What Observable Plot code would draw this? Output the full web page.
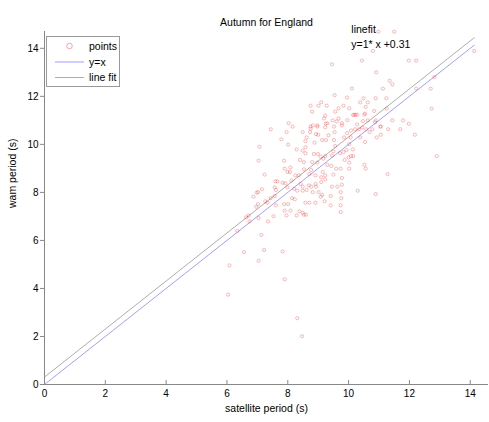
<!DOCTYPE html>
<html>
<head>
<meta charset="utf-8">
<script src="https://cdn.jsdelivr.net/npm/d3@7"></script>
<script src="https://cdn.jsdelivr.net/npm/@observablehq/plot@0.6"></script>
<style>
  html, body { margin: 0; padding: 0; background: white; }
  svg { display: block; }
</style>
</head>
<body>
<div id="chart"></div>
<script>
const title = "Autumn for England";
const xLabel = "satellite period (s)";
const yLabel = "wam period (s)";
const xTicks = [0, 2, 4, 6, 8, 10, 12, 14];
const yTicks = [0, 2, 4, 6, 8, 10, 12, 14];
const fitSlope = 1;
const fitIntercept = 0.31;
const legendLabels = ["points", "y=x", "line fit"];

// [satellite period, wam period]
const points = [
  [9.45,13.33],[10.11,12.33],[9.54,12.05],[9.10,11.75],[8.75,11.61],[9.01,11.61],[9.28,11.61],[9.83,11.61],[10.02,11.5],[9.67,11.5],
  [9.56,11.36],[8.80,11.36],[9.23,11.2],[9.19,11.08],[9.48,11.0],[9.67,11.08],[9.61,10.95],[8.03,10.88],[8.16,10.74],[8.75,10.74],
  [8.97,10.74],[9.30,10.88],[9.52,10.74],[9.78,10.88],[9.96,11.01],[10.15,11.22],
  [10.98,14.69],[11.50,14.69],[10.80,13.89],[10.44,13.49],[11.98,13.49],[12.22,13.49],[14.13,13.89],[10.91,13.0],[11.35,12.65],[11.44,12.5],
  [11.13,12.32],[12.82,12.8],[12.22,12.32],[12.70,12.32],[10.49,11.92],[10.63,11.75],[10.38,11.75],[10.89,11.92],[11.24,11.92],[10.56,11.56],
  [10.84,11.39],[10.54,11.28],[10.23,11.22],[11.25,11.49],[12.73,11.49],[10.47,10.97],[10.63,11.0],[10.89,11.0],[11.44,11.0],[11.79,11.0],
  [11.98,10.86],[11.06,10.74],
  [9.95,11.95],[10.19,11.24],[10.28,11.24],[10.52,11.24],[10.87,10.92],
  [7.44,10.63],[7.96,10.51],[8.49,10.51],[8.75,10.65],[8.82,10.79],[8.97,10.79],[8.73,10.51],[8.93,10.43],[8.62,10.29],[9.23,10.71],
  [9.78,10.79],[9.54,10.51],[9.34,10.38],[7.79,10.21],[8.58,10.13],[9.13,10.18],[9.26,10.18],[9.52,10.18],[9.85,10.29],[10.07,10.29],
  [7.07,9.9],[8.01,9.99],[8.58,9.88],[8.88,10.07],[9.56,9.93],[10.02,10.01],[8.29,9.79],[8.49,9.74],[8.58,9.63],[8.86,9.6],
  [8.99,9.6],[9.50,9.71],[9.45,9.54],[9.72,9.63],[9.83,9.68],[9.93,9.76],[9.23,9.51],[9.08,9.49],[9.17,9.4],[10.0,9.46],
  [10.15,9.51],[9.87,9.35],[10.02,9.24],[7.04,9.32],[7.88,9.32],[8.40,9.35],[8.53,9.26],[8.80,9.26],[8.97,9.24],[9.30,9.15],
  [9.43,9.1],[8.09,9.04],[7.90,8.99],[8.53,8.96],[8.77,8.93],[9.59,8.99],[9.74,8.99],[10.02,8.99],[7.99,8.85],[8.07,8.85],
  [7.24,8.74],[8.25,8.71],[8.36,8.71],[8.71,8.76],[8.91,8.71],[9.15,8.85],[9.23,8.71],[9.50,8.74],[9.10,8.63],[9.23,8.54],
  [9.78,8.6],[7.59,8.46],[7.66,8.46],[7.83,8.40],[7.92,8.38],[8.12,8.49],[8.42,8.35],[8.49,8.24],[8.69,8.29],[8.77,8.24],
  [8.91,8.35],[8.93,8.24],[9.10,8.43],[9.45,8.24],[9.63,8.24],[9.78,8.32],[7.99,8.21],[8.21,8.15],[7.57,8.21],[7.61,8.1],
  [7.15,8.13],[7.02,8.01],[8.31,8.07],[8.49,8.07],[8.62,8.1],[8.82,8.01],[9.01,8.01],[9.13,7.9],[9.08,7.82],[9.41,7.85],
  [9.74,8.01],[9.76,7.76],[6.87,7.82],[6.98,7.99],[7.44,7.76],[7.57,7.85],[8.14,7.76],[8.23,7.71],[7.26,7.63],[7.02,7.51],
  [7.33,7.57],[7.61,7.46],[7.88,7.51],[8.01,7.51],[8.58,7.57],[8.71,7.57],[8.91,7.57],[9.21,7.63],[9.41,7.46],[9.74,7.46],
  [6.96,7.40],[8.09,7.24],[8.38,7.21],[8.49,7.15],[8.6,7.07],[7.90,7.24],[9.74,7.18],[6.71,7.04],[6.63,6.96],[7.53,7.01],
  [7.96,7.04],[8.29,7.04],[8.53,7.07],
  [10.21,10.63],[10.34,10.63],[10.58,10.63],[10.78,10.63],[11.04,10.74],[11.30,10.63],[11.70,10.63],[10.69,10.51],[10.93,10.29],[11.06,10.4],
  [10.38,10.29],[10.54,10.1],[12.18,10.4],[10.14,9.79],[10.08,9.51],[12.90,9.51],[10.52,9.15],[10.56,8.99],[11.28,8.76],[10.30,8.07],
  [10.89,7.93],
  [7.04,6.93],[7.35,6.79],[6.74,6.79],[6.34,6.40],[7.13,6.23],[6.56,5.51],[7.22,5.6],[7.83,5.54],[7.04,5.15],[6.08,4.96],
  [7.90,4.38],[6.04,3.74],[8.31,2.76],[8.47,2.01],
  [9.25,10.86],[9.0,10.4],[9.95,10.47],[10.08,10.58],[10.28,10.83],[10.45,10.7]
];

const xMax = d3.max(points, d => d[0]);
const lineX = [0, xMax];
const identityLine = lineX.map(x => ({x, y: x}));
const fitLine = lineX.map(x => ({x, y: fitSlope * x + fitIntercept}));

const font = "'Liberation Sans', Arial, Helvetica, sans-serif";
const pointColor = "#ff0000";
const identityColor = "#7777ff";
const fitColor = "#8a8a8a";

const chart = Plot.plot({
  width: 489,
  height: 422,
  marginLeft: 44,
  marginRight: 1,
  marginTop: 31,
  marginBottom: 38,
  style: { fontFamily: font, fontSize: "10px", background: "white", color: "#000", overflow: "visible" },
  x: { domain: [0, 14.6], label: null },
  y: { domain: [0, 14.7], label: null },
  marks: [
    Plot.line(identityLine, { x: "x", y: "y", stroke: identityColor, strokeWidth: 0.7 }),
    Plot.line(fitLine, { x: "x", y: "y", stroke: fitColor, strokeWidth: 0.7 }),
    Plot.dot(points, { x: d => d[0], y: d => d[1], r: 1.6, stroke: pointColor, strokeWidth: 0.6, strokeOpacity: 0.45, fill: "none" }),
    Plot.ruleY([0], { stroke: "#888", strokeWidth: 1 }),
    Plot.ruleX([0], { stroke: "#888", strokeWidth: 1 }),
    Plot.axisX({ ticks: xTicks, tickSize: -4, tickPadding: 9, stroke: "#888", tickFormat: d => d, label: null, fontSize: 10 }),
    Plot.axisY({ ticks: yTicks, tickSize: 4, tickPadding: 2, stroke: "#888", tickFormat: d => d, label: null, fontSize: 10 }),
    Plot.text([title], { frameAnchor: "top", dy: -13, fontSize: 10.5, fill: "#000" }),
    Plot.text([xLabel], { frameAnchor: "bottom", dy: 27, fontSize: 10.5, fill: "#000" }),
    Plot.text([yLabel], { frameAnchor: "left", dx: -32, rotate: -90, fontSize: 10.5, fill: "#000" }),
    Plot.text(["linefit"], { x: 10.09, y: 14.78, textAnchor: "start", fontSize: 10.5, fill: "#000" }),
    Plot.text([`y=${fitSlope}* x +${fitIntercept}`], { x: 10.09, y: 14.17, textAnchor: "start", fontSize: 10.5, fill: "#000" })
  ]
});

// Legend box (top-left inside the axes)
const svg = d3.select(chart);
const lg = svg.append("g").attr("font-family", font).attr("font-size", 10.5).attr("text-anchor", "start");
lg.append("rect").attr("x", 46.5).attr("y", 36.5).attr("width", 73).attr("height", 50)
  .attr("fill", "white").attr("stroke", "#999").attr("stroke-width", 1);
lg.append("circle").attr("cx", 69.5).attr("cy", 46).attr("r", 2.8)
  .attr("fill", "none").attr("stroke", pointColor).attr("stroke-width", 0.7).attr("stroke-opacity", 0.5);
lg.append("line").attr("x1", 55).attr("x2", 84).attr("y1", 62).attr("y2", 62)
  .attr("stroke", identityColor).attr("stroke-width", 0.7);
lg.append("line").attr("x1", 55).attr("x2", 84).attr("y1", 77.5).attr("y2", 77.5)
  .attr("stroke", fitColor).attr("stroke-width", 0.7);
[46, 62, 77.5].forEach((y, i) => {
  lg.append("text").attr("x", 89).attr("y", y).attr("dy", "0.35em").attr("text-anchor", "start").attr("fill", "#000").text(legendLabels[i]);
});

document.getElementById("chart").appendChild(chart);
</script>
</body>
</html>
